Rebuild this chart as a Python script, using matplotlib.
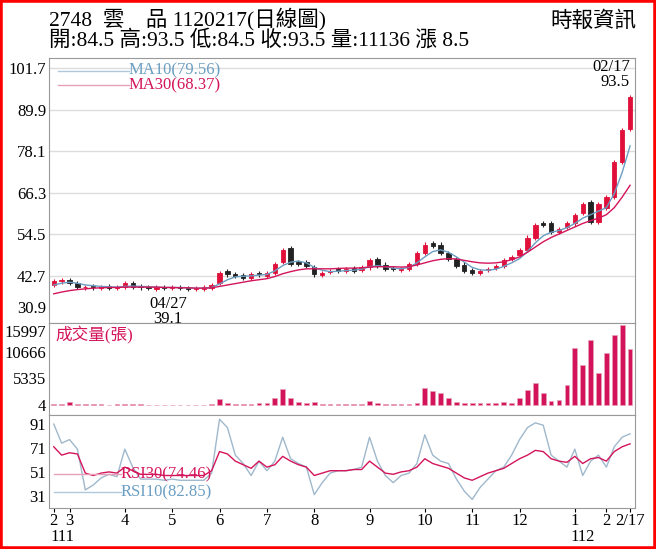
import matplotlib.pyplot as plt
from matplotlib.patches import Rectangle

plt.rcParams['font.family'] = ['Liberation Serif', 'Noto Sans CJK TC', 'DejaVu Sans']

# 每點約三個交易日
closes = [41.0, 41.5, 40.5, 39.5, 39.5, 39.3, 39.5, 39.2, 39.5, 40.5, 39.5, 39.3, 39.1, 39.3, 39.2,
          39.3, 39.2, 39.0, 39.0, 39.3, 40.0, 43.5, 43.0, 42.5, 42.0, 43.0, 43.0, 43.5, 46.0, 50.0,
          46.0, 46.0, 45.5, 43.0, 43.5, 44.0, 44.0, 44.5, 44.0, 45.0, 47.0, 45.5, 44.5, 44.5, 44.5,
          46.0, 49.0, 51.5, 51.0, 49.0, 47.5, 45.5, 44.0, 43.5, 44.0, 44.5, 45.5, 47.0, 48.0, 50.0,
          53.5, 57.0, 57.0, 55.0, 56.0, 57.5, 60.0, 63.0, 58.0, 63.0, 65.0, 75.0, 84.0, 93.5]
opens = [40.0, 41.0, 41.5, 40.5, 39.3, 39.6, 39.2, 39.6, 39.2, 39.4, 40.6, 39.6, 39.4, 39.0, 39.4,
         39.1, 39.4, 39.2, 38.8, 39.0, 39.2, 40.5, 44.0, 43.2, 42.8, 42.0, 43.5, 42.5, 43.5, 46.5,
         50.5, 46.5, 46.5, 45.0, 42.8, 43.6, 44.5, 44.0, 44.8, 44.2, 45.0, 47.5, 45.8, 44.8, 44.2,
         44.5, 46.0, 49.0, 52.0, 51.5, 49.0, 47.5, 45.8, 44.2, 43.5, 44.2, 44.8, 45.5, 47.5, 48.5,
         50.0, 53.5, 57.5, 57.5, 55.0, 56.5, 57.5, 60.5, 63.5, 58.0, 62.0, 65.0, 75.0, 84.5]
ma10 = [40.0, 40.5, 40.8, 40.5, 40.0, 39.8, 39.6, 39.5, 39.4, 39.6, 39.7, 39.6, 39.5, 39.4, 39.3,
        39.3, 39.3, 39.2, 39.1, 39.1, 39.3, 40.3, 41.5, 42.3, 42.5, 42.6, 42.8, 43.0, 44.0, 45.5,
        46.5, 46.8, 46.3, 45.0, 44.2, 43.8, 43.9, 44.1, 44.2, 44.5, 45.2, 45.5, 45.2, 44.8, 44.6,
        45.0, 46.3, 48.0, 49.5, 50.0, 49.3, 48.0, 46.5, 45.0, 44.3, 44.2, 44.5, 45.3, 46.3, 47.5,
        49.5, 52.0, 54.0, 55.0, 55.5, 56.3, 57.5, 59.0, 60.0, 61.0, 62.0, 66.0, 72.0, 79.56]
ma30 = [37.5, 38.0, 38.4, 38.7, 38.9, 39.1, 39.2, 39.3, 39.3, 39.4, 39.4, 39.4, 39.4, 39.4, 39.3,
        39.3, 39.2, 39.2, 39.1, 39.1, 39.2, 39.6, 40.0, 40.4, 40.8, 41.2, 41.5, 41.8, 42.4, 43.2,
        43.8, 44.3, 44.6, 44.6, 44.6, 44.6, 44.7, 44.8, 44.8, 44.9, 45.1, 45.2, 45.2, 45.2, 45.1,
        45.2, 45.7, 46.3, 46.9, 47.3, 47.5, 47.4, 47.0, 46.6, 46.3, 46.2, 46.3, 46.6, 47.2, 48.0,
        49.3, 50.8, 52.3, 53.5, 54.5, 55.5, 56.5, 57.5, 58.3, 59.0, 60.0, 62.0, 65.0, 68.37]
volume = [300, 200, 700, 150, 150, 120, 120, 100, 120, 300, 150, 120, 100, 100, 100,
          100, 100, 100, 100, 100, 150, 1200, 500, 300, 250, 300, 350, 400, 1500, 3200,
          1500, 600, 400, 700, 300, 250, 250, 300, 250, 300, 800, 500, 300, 250, 250,
          300, 500, 3500, 2800, 2500, 1500, 700, 500, 400, 350, 350, 400, 600, 500, 1500,
          3000, 4500, 2500, 800, 1000, 4000, 11500, 8000, 13000, 6500, 10500, 14000, 16000, 11136]
rsi10 = [91, 75, 78, 70, 36, 40, 46, 49, 47, 70, 55, 45, 45, 45, 44,
         45, 44, 44, 44, 44, 50, 95, 88, 65, 58, 48, 60, 52, 60, 80,
         62, 58, 55, 32, 42, 50, 52, 52, 53, 55, 80, 60, 48, 42, 48,
         50, 58, 82, 65, 60, 58, 45, 35, 28, 38, 45, 52, 55, 65, 78,
         88, 92, 90, 65, 60, 55, 70, 48, 60, 65, 55, 72, 80, 82.85]
rsi30 = [72, 65, 67, 66, 50, 48, 50, 51, 50, 55, 52, 49, 49, 49, 48,
         48, 48, 48, 48, 48, 52, 68, 66, 60, 57, 54, 60, 55, 57, 64,
         60, 57, 55, 48, 50, 52, 52, 52, 53, 53, 60, 55, 50, 49, 51,
         52, 55, 62, 58, 56, 54, 50, 46, 44, 47, 50, 52, 54, 58, 62,
         65, 69, 68, 62, 60, 59, 64, 58, 62, 63, 60, 68, 72, 74.46]

month_pos = [0, 2, 9, 15, 21, 27, 33, 40, 47, 53, 59, 66, 70, 73]
month_lbl = ['2', '3', '4', '5', '6', '7', '8', '9', '10', '11', '12', '1', '2', '2/17']

N = len(closes)
xs = list(range(N))
red = '#d4145a'
blue = '#6a9ec2'

fig = plt.figure(figsize=(6.56, 5.49), dpi=100)
fig.patches.append(Rectangle((0, 0), 1, 1, transform=fig.transFigure, fill=False,
                             edgecolor='red', linewidth=4))

fig.text(0.075, 0.966, '2748  雲    品 1120217(日線圖)', fontsize=15.5, va='center')
fig.text(0.075, 0.926, '開:84.5 高:93.5 低:84.5 收:93.5 量:11136 漲 8.5', fontsize=15.5, va='center')
fig.text(0.97, 0.960, '時報資訊', fontsize=15.5, va='center', ha='right')

L, W = 0.0747, 0.893
ax1 = fig.add_axes([L, 0.4117, W, 0.4823])
ax2 = fig.add_axes([L, 0.244, W, 0.1675])
ax3 = fig.add_axes([L, 0.075, W, 0.169])

for ax in (ax1, ax2, ax3):
    ax.set_xlim(-0.6, N - 0.4)
    for s in ax.spines.values():
        s.set_color('#999999')
    ax.tick_params(length=0, labelsize=12, pad=2)
    ax.set_xticks([])

# K線
ax1.set_ylim(29.2, 104.5)
ticks = [30.9, 42.7, 54.5, 66.3, 78.1, 89.9, 101.7]
ax1.set_yticks(ticks)
ax1.set_yticklabels([str(t) for t in ticks])
ax1.get_yticklabels()[0].set_va('bottom')
for t in ticks[1:]:
    ax1.axhline(t, color='#dddddd', lw=1, zorder=0)
for i in xs:
    o, c = opens[i], closes[i]
    col = '#e0103a' if c >= o else '#222222'
    hi = max(o, c) + 0.6
    lo = min(o, c) - 0.6
    ax1.vlines(i, lo, hi, color=col, lw=0.8)
    ax1.bar(i, max(abs(c - o), 0.25), bottom=min(o, c), width=0.55, color=col,
            edgecolor=col, linewidth=0.6)
ax1.plot(xs, ma10, color=blue, lw=1)
ax1.plot(xs, ma30, color=red, lw=1)
ax1.plot([0.5, 9.5], [100.9, 100.9], color='#b0c8dc', lw=1)
ax1.plot([0.5, 9.5], [96.8, 96.8], color='#e8a0b8', lw=1)
ax1.text(9.5, 100.9, 'MA10(79.56)', color=blue, fontsize=12, va='center')
ax1.text(9.5, 96.8, 'MA30(68.37)', color=red, fontsize=12, va='center')
ax1.text(N - 1, 104.3, '02/17', fontsize=12, ha='right', va='top')
ax1.text(N - 1, 100.0, '93.5', fontsize=12, ha='right', va='top')
ax1.text(14.5, 36.8, '04/27', fontsize=12, ha='center', va='top')
ax1.text(14.5, 32.6, '39.1', fontsize=12, ha='center', va='top')

# 成交量
ax2.set_ylim(-2000, 16400)
vt = [4, 5335, 10666, 15997]
ax2.set_yticks(vt)
ax2.set_yticklabels([str(v) for v in vt])
ax2.get_yticklabels()[-1].set_va('top')
ax2.bar(xs, volume, width=0.6, color=red, edgecolor='#e8a0b8', linewidth=0.5)
ax2.text(0.2, 14000, '成交量(張)', color=red, fontsize=12, va='center')

# RSI
ax3.set_ylim(21, 98.5)
rt = [31, 51, 71, 91]
ax3.set_yticks(rt)
ax3.set_yticklabels([str(v) for v in rt])
ax3.plot(xs, rsi10, color='#9fb8cc', lw=1)
ax3.plot(xs, rsi30, color=red, lw=1)
ax3.plot([0, 8.5], [49, 49], color='#e8a0b8', lw=1)
ax3.plot([0, 8.5], [34, 34], color='#b0c8dc', lw=1)
ax3.text(8.5, 49, 'RSI30(74.46)', color=red, fontsize=12, va='center')
ax3.text(8.5, 34, 'RSI10(82.85)', color=blue, fontsize=12, va='center')
ax3.set_xticks(month_pos)
ax3.set_xticklabels(month_lbl, fontsize=12)
ax3.tick_params(axis='x', length=3, pad=1)
fig.text(L + 0.002, 0.015, '111', fontsize=12)
fig.text(0.87, 0.015, '112', fontsize=12)

fig.savefig('out.png', dpi=100)
